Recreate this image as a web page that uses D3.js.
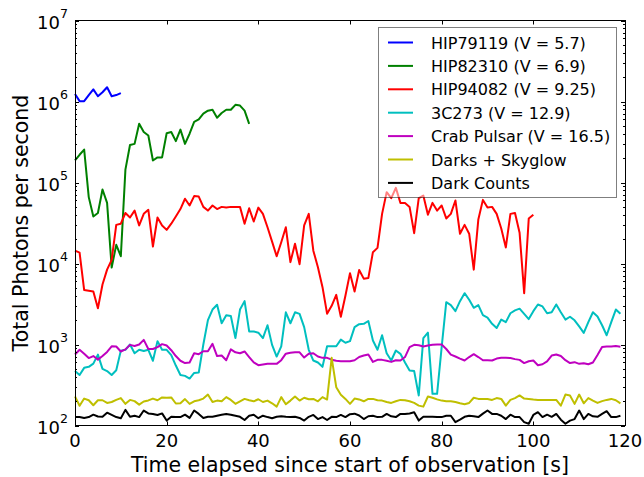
<!DOCTYPE html>
<html>
<head>
<meta charset="utf-8">
<script src="https://cdn.jsdelivr.net/npm/d3@7"></script>
<style>
body { margin: 0; background: #fff; }
svg { font-family: "DejaVu Sans", sans-serif; }
</style>
</head>
<body>
<div id="main-chart"></div>
<script>
var w = 644, h = 477;
var pLeft = 75, pRight = 625, pTop = 20.5, pBottom = 425.5;

// one sample per second, starting at t = 0
var hip79119 = [1.24e6, 1.01e6, 1.01e6, 1.2e6, 1.41e6, 1.16e6, 1.3e6, 1.5e6, 1.16e6, 1.2e6, 1.27e6];

var hip82310 = [1.87e5, 2.2e5, 2.55e5, 6.6e4, 3.8e4, 4.2e4, 8.2e4, 5.6e4, 8.9e3, 1.7e4,
    1.23e4, 1.44e5, 2.9e5, 3.0e5, 5.3e5, 4.2e5, 3.8e5, 1.87e5, 2.04e5, 2.04e5,
    4.06e5, 4.2e5, 3.24e5, 4.5e5, 3.0e5, 4.0e5, 5.6e5, 6.0e5, 7.1e5, 7.7e5,
    7.9e5, 6.3e5, 7.2e5, 7.9e5, 7.9e5, 9.1e5, 8.9e5, 7.7e5, 5.3e5];

var hip94082 = [1.44e4, 1.36e4, 4700, 4600, 4500, 2800, 5500, 8400, 1.11e4, 3.0e4,
    3.1e4, 4.2e4, 3.7e4, 4.5e4, 2.95e4, 4.1e4, 4.6e4, 1.62e4, 3.7e4, 2.95e4,
    2.6e4, 3.1e4, 3.8e4, 4.7e4, 6.3e4, 5.2e4, 6.8e4, 6.7e4, 5.0e4, 4.5e4,
    5.2e4, 4.7e4, 5.0e4, 4.9e4, 5.0e4, 5.0e4, 5.0e4, 3.1e4, 4.8e4, 3.3e4,
    4.9e4, 4.1e4, 2.8e4, 1.86e4, 1.23e4, 1.83e4, 2.8e4, 1.04e4, 1.75e4, 9800,
    2.95e4, 4.1e4, 1.44e4, 9000, 5100, 2400, 3000, 4100, 2200, 4000,
    7600, 4500, 8300, 6500, 6600, 1.38e4, 1.56e4, 4.1e4, 7.6e4, 6.4e4,
    8.6e4, 5.6e4, 5.6e4, 5.0e4, 2.37e4, 6.4e4, 6.9e4, 4.0e4, 5.6e4, 4.5e4,
    5.2e4, 3.6e4, 4.1e4, 6.0e4, 2.33e4, 3.0e4, 2.33e4, 8400, 3.5e4, 6.1e4,
    4.9e4, 5.0e4, 4.1e4, 2.7e4, 1.58e4, 4.1e4, 4.2e4, 2.4e4, 4300, 3.6e4,
    4.0e4];

var c3c273 = [470, 420, 515, 530, 580, 750, 500, 470, 420, 480,
    840, 860, 1000, 780, 860, 830, 860, 630, 1100, 860,
    860, 740, 550, 420, 410, 380, 445, 450, 1000, 2000,
    2700, 3100, 1830, 2300, 2250, 1200, 2700, 3430, 1450, 1450,
    1400, 1200, 1730, 990, 710, 950, 2500, 1830, 2500, 2390,
    1640, 860, 634, 600, 530, 950, 950, 950, 1150, 1050,
    1100, 1640, 1780, 1800, 1950, 1120, 860, 1300, 780, 634,
    843, 767, 600, 478, 470, 235, 1200, 1400, 246, 246,
    930, 3330, 3060, 2580, 3430, 4300, 3570, 2840, 3060, 2300,
    2150, 1800, 1600, 2030, 1890, 2430, 2640, 2770, 2390, 2060,
    2580, 3120, 2950, 2430, 2500, 3120, 2500, 2030, 2200, 1990,
    1670, 1390, 1890, 2500, 2220, 1730, 1300, 1890, 2700, 2390];

var crabPulsar = [752, 860, 770, 680, 720, 650, 720, 810, 950, 945,
    820, 870, 990, 960, 1000, 1140, 880, 880, 930, 1010,
    970, 850, 720, 630, 590, 600, 780, 760, 826, 826,
    1020, 720, 730, 640, 870, 800, 780, 820, 700, 600,
    555, 566, 577, 577, 577, 640, 770, 790, 803, 800,
    690, 767, 780, 711, 684, 684, 650, 630, 622, 622,
    622, 640, 700, 730, 752, 610, 646, 646, 630, 610,
    640, 634, 700, 930, 990, 980, 945, 970, 990, 1000,
    1000, 880, 750, 711, 670, 634, 700, 760, 700, 640,
    640, 634, 670, 684, 684, 680, 660, 646, 590, 622,
    634, 555, 570, 620, 730, 752, 720, 640, 590, 605,
    577, 588, 570, 600, 740, 930, 945, 945, 960, 940];

var darksSkyglow = [228, 175, 215, 205, 178, 205, 205, 190, 195, 207,
    218, 185, 207, 200, 181, 198, 204, 215, 205, 222,
    220, 222, 187, 188, 212, 185, 199, 205, 215, 241,
    195, 203, 199, 224, 207, 185, 199, 213, 205, 199,
    211, 195, 203, 188, 171, 224, 183, 203, 228, 203,
    220, 211, 213, 199, 224, 209, 684, 297, 240, 213,
    185, 215, 210, 199, 213, 213, 205, 203, 195, 190,
    199, 207, 205, 199, 190, 176, 171, 228, 220, 210,
    203, 199, 199, 195, 188, 183, 190, 220, 213, 213,
    213, 207, 218, 213, 176, 207, 218, 235, 215, 213,
    209, 207, 207, 207, 207, 207, 176, 241, 235, 185,
    241, 188, 218, 203, 190, 200, 207, 213, 205, 188];

var darkCounts = [127, 127, 124, 127, 136, 129, 128, 144, 135, 127,
    123, 156, 128, 132, 127, 153, 141, 139, 135, 141,
    115, 128, 127, 127, 136, 124, 153, 139, 124, 128,
    128, 132, 136, 139, 136, 132, 128, 117, 132, 136,
    123, 132, 127, 123, 128, 130, 128, 127, 128, 124,
    115, 128, 135, 120, 127, 117, 128, 127, 135, 127,
    138, 140, 133, 120, 130, 132, 127, 128, 139, 130,
    127, 139, 139, 141, 146, 115, 128, 128, 128, 127,
    127, 132, 132, 110, 118, 128, 132, 130, 127, 140,
    153, 139, 139, 132, 120, 136, 127, 127, 110, 105,
    135, 146, 127, 136, 128, 139, 118, 105, 115, 120,
    153, 120, 139, 130, 128, 139, 150, 127, 127, 132];

var seriesNames = ["HIP79119 (V = 5.7)", "HIP82310 (V = 6.9)", "HIP94082 (V = 9.25)",
    "3C273 (V = 12.9)", "Crab Pulsar (V = 16.5)", "Darks + Skyglow", "Dark Counts"];
var seriesColors = ["#0000ff", "#008000", "#ff0000", "#00bfbf", "#bf00bf", "#bfbf00", "#000000"];
var seriesValues = [hip79119, hip82310, hip94082, c3c273, crabPulsar, darksSkyglow, darkCounts];

var xTicks = [0, 20, 40, 60, 80, 100, 120];
var yExponents = [2, 3, 4, 5, 6, 7];

var svg = d3.select("#main-chart")
    .append("svg")
    .attr("width", w)
    .attr("height", h);

var x = d3.scaleLinear().domain([0, 120]).range([pLeft, pRight]);
var y = d3.scaleLog().domain([1e2, 1e7]).range([pBottom, pTop]);

var line = d3.line()
    .x(function(d, i) { return x(i); })
    .y(function(d) { return y(d); });

svg.append("g")
    .selectAll("path")
    .data(seriesValues)
    .enter()
    .append("path")
    .attr("d", function(d) { return line(d); })
    .attr("fill", "none")
    .attr("stroke", function(d, i) { return seriesColors[i]; })
    .attr("stroke-width", 2)
    .attr("stroke-linejoin", "round");

// frame + inward ticks on all four sides
var frame = svg.append("g").attr("stroke", "#000").attr("stroke-width", 1);
frame.append("rect")
    .attr("x", pLeft + 0.5).attr("y", pTop)
    .attr("width", pRight - pLeft).attr("height", pBottom - pTop)
    .attr("fill", "none");

var minor = [];
yExponents.slice(0, -1).forEach(function(e) {
    for (var k = 2; k < 10; ++k) minor.push(k * Math.pow(10, e));
});

function yTickLines(vals, len) {
    vals.forEach(function(v) {
	var yy = Math.round(y(v)) + 0.5;
	frame.append("line").attr("x1", pLeft).attr("x2", pLeft + len).attr("y1", yy).attr("y2", yy);
	frame.append("line").attr("x1", pRight).attr("x2", pRight - len).attr("y1", yy).attr("y2", yy);
    });
}
yTickLines(yExponents.map(function(e) { return Math.pow(10, e); }), 4);
yTickLines(minor, 2);

xTicks.forEach(function(t) {
    var xx = Math.round(x(t)) + 0.5;
    frame.append("line").attr("x1", xx).attr("x2", xx).attr("y1", pBottom).attr("y2", pBottom - 4);
    frame.append("line").attr("x1", xx).attr("x2", xx).attr("y1", pTop).attr("y2", pTop + 4);
});

svg.append("g")
    .selectAll("text")
    .data(xTicks)
    .enter()
    .append("text")
    .attr("x", function(d) { return x(d); })
    .attr("y", 447)
    .attr("text-anchor", "middle")
    .attr("font-size", "18px")
    .attr("fill", "#000")
    .text(function(d) { return d; });

var ylabels = svg.append("g")
    .selectAll("text")
    .data(yExponents)
    .enter()
    .append("text")
    .attr("x", 68)
    .attr("y", function(d) { return y(Math.pow(10, d)) + 8; })
    .attr("text-anchor", "end")
    .attr("font-size", "18px")
    .attr("fill", "#000");
ylabels.append("tspan").text("10");
ylabels.append("tspan")
    .attr("dy", -11)
    .attr("font-size", "12.6px")
    .text(function(d) { return d; });

svg.append("text")
    .attr("x", (pLeft + pRight) / 2)
    .attr("y", 472)
    .attr("text-anchor", "middle")
    .attr("font-size", "20.5px")
    .text("Time elapsed since start of observation [s]");

svg.append("text")
    .attr("transform", "translate(28," + ((pTop + pBottom) / 2) + ") rotate(-90)")
    .attr("text-anchor", "middle")
    .attr("font-size", "20.5px")
    .text("Total Photons per second");

// legend, half transparent like the original
var legend = svg.append("g");
legend.append("rect")
    .attr("x", 378.5).attr("y", 27.5)
    .attr("width", 238).attr("height", 170)
    .attr("fill", "#fff").attr("fill-opacity", 0.5)
    .attr("stroke", "#000").attr("stroke-opacity", 0.5);

var rows = legend.selectAll(".row")
    .data(seriesNames)
    .enter()
    .append("g")
    .attr("class", "row")
    .attr("transform", function(d, i) { return "translate(0," + (42.5 + i * 23.4) + ")"; });
rows.append("line")
    .attr("x1", 388).attr("x2", 413)
    .attr("stroke", function(d, i) { return seriesColors[i]; })
    .attr("stroke-width", 2);
rows.append("text")
    .attr("x", 431)
    .attr("y", 6)
    .attr("font-size", "16px")
    .attr("fill", "#000")
    .text(function(d) { return d; });
</script>
</body>
</html>
